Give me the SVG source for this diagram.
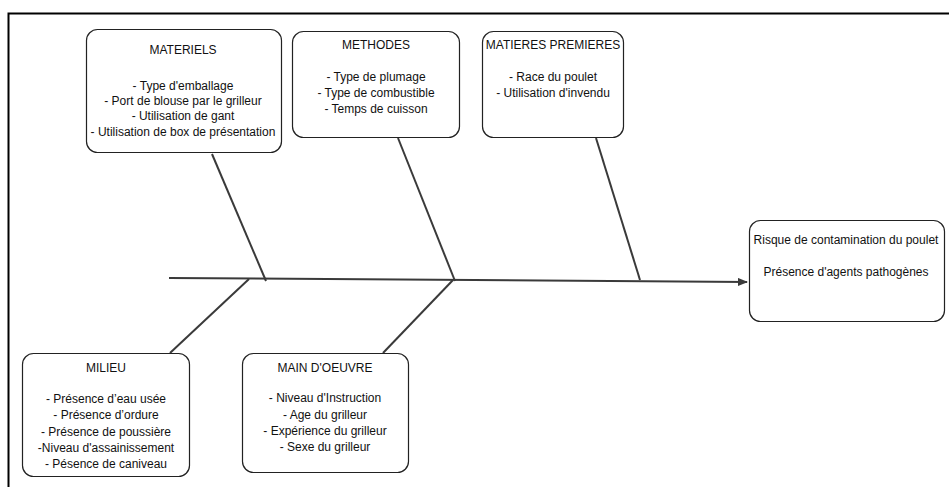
<svg xmlns="http://www.w3.org/2000/svg" width="949" height="487" viewBox="0 0 949 487">
<style>
.box{fill:#fff;stroke:#222;stroke-width:1.2}
.bone{stroke:#3a3a3a;stroke-width:2;fill:none}
text{font-family:"Liberation Sans",Arial,sans-serif;font-size:12px;fill:#111;text-anchor:middle}
</style>
<defs>
<marker id="arr" markerWidth="10" markerHeight="8" refX="9" refY="4" orient="auto" markerUnits="userSpaceOnUse">
<path d="M0,0 L10,4 L0,8 z" fill="#3a3a3a"/>
</marker>
</defs>
<rect width="949" height="487" fill="#fff"/>
<path d="M8.5,487 V13.5 H949" fill="none" stroke="#000" stroke-width="2"/>
<g id="connectors">
<line class="bone" x1="169" y1="278" x2="747" y2="282" marker-end="url(#arr)"/>
<line class="bone" x1="212" y1="154" x2="266" y2="281"/>
<line class="bone" x1="398" y1="138" x2="455" y2="281"/>
<line class="bone" x1="596" y1="138" x2="640" y2="280"/>
<line class="bone" x1="170" y1="353" x2="249" y2="279"/>
<line class="bone" x1="383" y1="353" x2="453" y2="280"/>
</g>
<g id="materiels">
<rect class="box" x="86.5" y="29.5" width="195" height="123" rx="11"/>
<text x="183" y="54">MATERIELS</text>
<text x="183" y="90">- Type d'emballage</text>
<text x="183" y="105">- Port de blouse par le grilleur</text>
<text x="183" y="120">- Utilisation de gant</text>
<text x="183" y="136">- Utilisation de box de présentation</text>
</g>
<g id="methodes">
<rect class="box" x="292.5" y="31.5" width="167" height="106" rx="11"/>
<text x="376" y="49">METHODES</text>
<text x="376" y="81">- Type de plumage</text>
<text x="376" y="97">- Type de combustible</text>
<text x="376" y="113">- Temps de cuisson</text>
</g>
<g id="matieres">
<rect class="box" x="482.5" y="31.5" width="141" height="106" rx="11"/>
<text x="553" y="49">MATIERES PREMIERES</text>
<text x="553" y="81">- Race du poulet</text>
<text x="553" y="97">- Utilisation d'invendu</text>
</g>
<g id="resultat">
<rect class="box" x="749.5" y="220.5" width="195" height="101" rx="11"/>
<text x="846" y="244">Risque de contamination du poulet</text>
<text x="846" y="276">Présence d'agents pathogènes</text>
</g>
<g id="milieu">
<rect class="box" x="22.5" y="353.5" width="167" height="123" rx="11"/>
<text x="106" y="372">MILIEU</text>
<text x="106" y="403">- Présence d’eau usée</text>
<text x="106" y="419">- Présence d’ordure</text>
<text x="106" y="436">- Présence de poussière</text>
<text x="106" y="452">-Niveau d'assainissement</text>
<text x="106" y="468">- Pésence de caniveau</text>
</g>
<g id="main-oeuvre">
<rect class="box" x="242.5" y="353.5" width="166" height="119" rx="11"/>
<text x="325" y="372">MAIN D'OEUVRE</text>
<text x="325" y="402">- Niveau d'Instruction</text>
<text x="325" y="419">- Age du grilleur</text>
<text x="325" y="435">- Expérience du grilleur</text>
<text x="325" y="451">- Sexe du grilleur</text>
</g>
</svg>
